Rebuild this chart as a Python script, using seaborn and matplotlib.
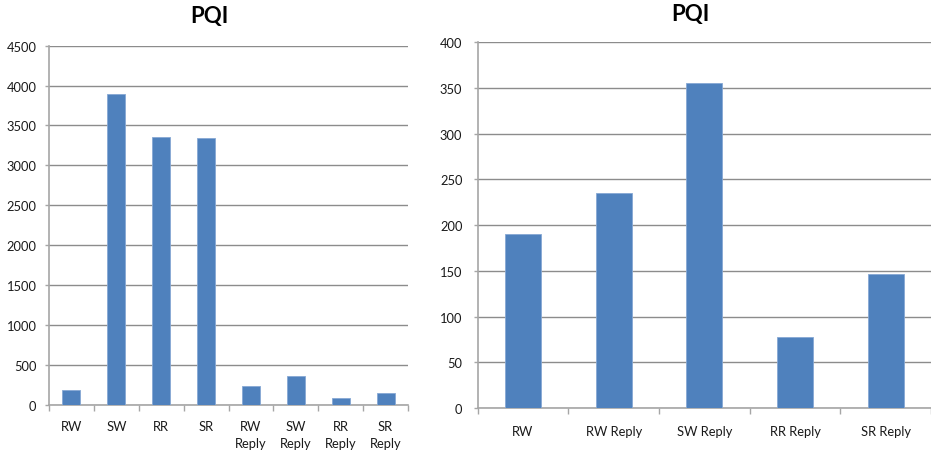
import matplotlib
matplotlib.use("Agg")
import matplotlib.pyplot as plt
import seaborn as sns
import pandas as pd
import numpy as np

# PQI values per category
all_categories = ["RW", "SW", "RR", "SR", "RW\nReply", "SW\nReply", "RR\nReply", "SR\nReply"]
all_values = [190, 3890, 3360, 3340, 235, 355, 78, 147]

subset_categories = ["RW", "RW Reply", "SW Reply", "RR Reply", "SR Reply"]
subset_values = [190, 235, 355, 78, 147]

left_yticks = list(range(0, 4501, 500))
right_yticks = list(range(0, 401, 50))

sns.set_theme(style="white")
plt.rcParams["font.family"] = ["Lato", "DejaVu Sans"]

BAR = "#4F81BD"
GRID = "#8c8c8c"
W, H = 931, 456

fig = plt.figure(figsize=(W / 100, H / 100), dpi=100)
ax1 = fig.add_axes([49 / W, 1 - 405.7 / H, (408 - 49) / W, (405.7 - 46.7) / H])
ax2 = fig.add_axes([477.7 / W, 1 - 409 / H, (931 - 477.7) / W, (409 - 43.3) / H])


def draw(ax, cats, vals, yticks, ypad, xpad):
    df = pd.DataFrame({"cat": cats, "val": vals})
    sns.barplot(data=df, x="cat", y="val", color=BAR, saturation=1, width=0.4,
                ax=ax, edgecolor="#86a8d4", linewidth=0.6, zorder=3)
    n = len(cats)
    ax.set_xlim(-0.5, n - 0.5)
    ax.set_ylim(yticks[0], yticks[-1])
    ax.set_yticks(yticks)
    ax.set_yticklabels([str(t) for t in yticks])
    ax.set_xlabel("")
    ax.set_ylabel("")
    ax.yaxis.grid(True, color=GRID, linewidth=1.0, zorder=0)
    ax.set_axisbelow(True)
    for side in ("top", "right"):
        ax.spines[side].set_visible(False)
    for side in ("left", "bottom"):
        ax.spines[side].set_visible(True)
        ax.spines[side].set_color("#a6a6a6")
        ax.spines[side].set_linewidth(1.2)
    ax.spines["left"].set_zorder(4)
    ax.set_xticks(np.arange(-0.5, n, 1.0), minor=True)
    ax.tick_params(axis="x", which="major", length=0, pad=xpad, labelsize=9.3,
                   labelcolor="#1a1a1a")
    ax.tick_params(axis="x", which="minor", length=4, width=1.0, color="#a6a6a6",
                   direction="out", bottom=True)
    ax.tick_params(axis="y", which="major", length=3, width=1.0, color="#a6a6a6",
                   direction="out", left=True, pad=ypad, labelsize=9.3,
                   labelcolor="#1a1a1a")
    for lbl in ax.get_xticklabels():
        lbl.set_linespacing(1.5)


draw(ax1, all_categories, all_values, left_yticks, 6, 11)
draw(ax2, subset_categories, subset_values, right_yticks, 8, 12)

fig.text(209 / W, 1 - 16 / H, "PQI", ha="center", va="center",
         fontsize=16, fontweight="bold", color="black")
fig.text(690.7 / W, 1 - 14 / H, "PQI", ha="center", va="center",
         fontsize=16, fontweight="bold", color="black")

fig.savefig("out.png", dpi=100, facecolor="white")
